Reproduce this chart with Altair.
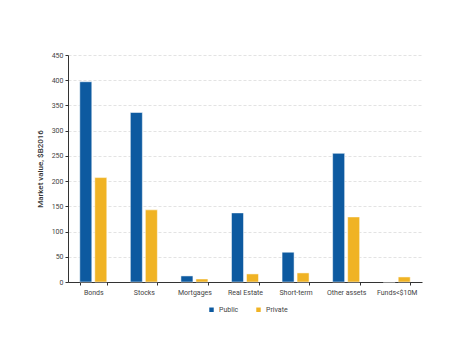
import altair as alt
import pandas as pd

categories = ["Bonds", "Stocks", "Mortgages", "Real Estate", "Short-term", "Other assets", "Funds<$10M"]
public_vals = [397, 336, 12, 137, 59, 255, 0]
private_vals = [207, 143, 6, 16, 18, 129, 10]
series = ["Public", "Private"]
colors = ["#0d5aa0", "#f0b324"]

rows = []
for c, pu, pr in zip(categories, public_vals, private_vals):
    rows.append({"cat": c, "series": "Public", "value": pu})
    rows.append({"cat": c, "series": "Private", "value": pr})
df = pd.DataFrame(rows)

font = "Roboto"

chart = alt.Chart(df).mark_bar(stroke="white", strokeWidth=0.5).encode(
    x=alt.X("cat:N", sort=categories, title=None,
            scale=alt.Scale(paddingInner=0.466, paddingOuter=0.233),
            axis=alt.Axis(labelAngle=0, labelFontSize=7, labelColor="#444444", labelFont=font,
                          tickBand="extent", domainColor="#333333", tickColor="#333333",
                          tickSize=3, labelPadding=3)),
    xOffset=alt.XOffset("series:N", sort=series, scale=alt.Scale(paddingInner=0.2, paddingOuter=0)),
    y=alt.Y("value:Q", title="Market value, $B2016",
            scale=alt.Scale(domain=[0, 450]),
            axis=alt.Axis(values=list(range(0, 451, 50)), labelFontSize=7, labelColor="#444444",
                          labelFont=font, titleFont=font, titleFontSize=8, titleFontWeight=500,
                          titleColor="#333333", titlePadding=7, domainColor="#333333",
                          tickSize=3, tickColor="#333333", gridColor="#d0d0d0", gridDash=[3, 2],
                          gridWidth=0.6)),
    color=alt.Color("series:N", sort=series, scale=alt.Scale(domain=series, range=colors),
                    legend=alt.Legend(title=None, orient="none", legendX=140, legendY=251,
                                      direction="horizontal", symbolType="square", symbolSize=20,
                                      labelFontSize=7, labelFont=font, labelColor="#444444",
                                      columnPadding=16, symbolStrokeWidth=0)),
).properties(
    width=354, height=227,
    autosize=alt.AutoSizeParams(type="none"),
    padding={"left": 60, "top": 47, "right": 38, "bottom": 60},
).configure_view(stroke=None)

chart.save("out.html", embed_options={"renderer": "svg", "actions": False})
